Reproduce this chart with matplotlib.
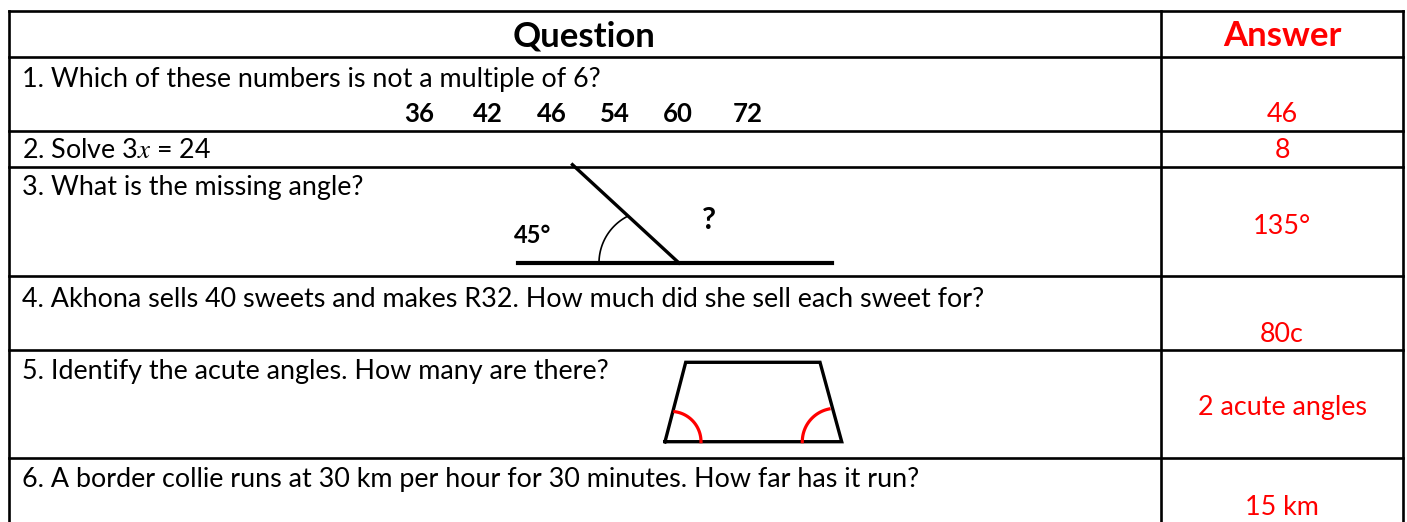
import matplotlib
matplotlib.use("Agg")
import matplotlib.pyplot as plt
import numpy as np

plt.rcParams.update({
    "font.family": ["Lato", "DejaVu Sans"],
    "mathtext.fontset": "stix",
})

# table content
header = ["Question", "Answer"]
questions = [
    "1. Which of these numbers is not a multiple of 6?",
    "2. Solve 3$x$ = 24",
    "3. What is the missing angle?",
    "4. Akhona sells 40 sweets and makes R32. How much did she sell each sweet for?",
    "5. Identify the acute angles. How many are there?",
    "6. A border collie runs at 30 km per hour for 30 minutes. How far has it run?",
]
answers = ["46", "8", "135°", "80c", "2 acute angles", "15 km"]
choices = [36, 42, 46, 54, 60, 72]
given_angle = 45

RED = "#ff0000"
W, H = 1407, 522

fig = plt.figure(figsize=(W / 100, H / 100), dpi=100)
ax = fig.add_axes([0, 0, 1, 1])
ax.set_xlim(0, W)
ax.set_ylim(H, 0)
ax.axis("off")

# grid of the table (pixel layout)
row_lines = [11, 57, 131, 167, 276, 350, 457.5]
x_left, x_mid, x_right = 9, 1161, 1403
for y in row_lines:
    ax.plot([x_left, x_right], [y, y], color="black", lw=1.9, solid_capstyle="projecting")
for x in [x_left, x_mid, x_right]:
    ax.plot([x, x], [row_lines[0], H + 5], color="black", lw=1.9, solid_capstyle="projecting")

# header
ax.text(584, 46.5, header[0], ha="center", va="baseline", fontsize=25, fontweight="bold")
ax.text(1282, 46.5, header[1], ha="center", va="baseline", fontsize=25, fontweight="bold", color=RED)

# question and answer text (baselines)
q_y = [87, 157.5, 195, 307, 379, 487]
a_y = [122, 158.5, 234, 342, 415, 515]
for q, y in zip(questions, q_y):
    ax.text(22, y, q, ha="left", va="baseline", fontsize=19.4)
for a, y in zip(answers, a_y):
    ax.text(1282, y, a, ha="center", va="baseline", fontsize=19.4, color=RED)

# multiple choice numbers
choice_x = [419, 488, 552, 615, 678, 748]
for c, x in zip(choices, choice_x):
    ax.text(x, 122, str(c), ha="center", va="baseline", fontsize=18.5, fontweight="bold")

# angle diagram
vx, vy = 679, 263
ax.plot([518, 832], [vy, vy], color="black", lw=3.0)
arm_deg = 180 - 42.7
arm_len = 145
ax.plot([vx, vx + arm_len * np.cos(np.radians(arm_deg))],
        [vy, vy - arm_len * np.sin(np.radians(arm_deg))], color="black", lw=2.4)
t = np.radians(np.linspace(118, 180, 40))
ax.plot(651.5 + 52.5 * np.cos(t), vy - 52.5 * np.sin(t), color="black", lw=1.2)
ax.text(533, 243, f"{given_angle}°", ha="center", va="baseline", fontsize=17, fontweight="bold")
ax.text(709, 229, "?", ha="center", va="baseline", fontsize=22, fontweight="bold")

# trapezoid with acute angles marked
tx = [665, 685.7, 820, 841.7, 665]
ty = [441.7, 362.3, 362.3, 441.7, 441.7]
ax.plot(tx, ty, color="black", lw=2.4, solid_joinstyle="miter")
t = np.radians(np.linspace(0, 82, 40))
ax.plot(670.7 + 30.3 * np.cos(t), 441.7 - 30.3 * np.sin(t), color=RED, lw=2.3)
t = np.radians(np.linspace(101.6, 180, 40))
ax.plot(835.7 + 33.4 * np.cos(t), 441.7 - 33.4 * np.sin(t), color=RED, lw=2.3)

fig.savefig("out.png", dpi=100)
plt.close(fig)
